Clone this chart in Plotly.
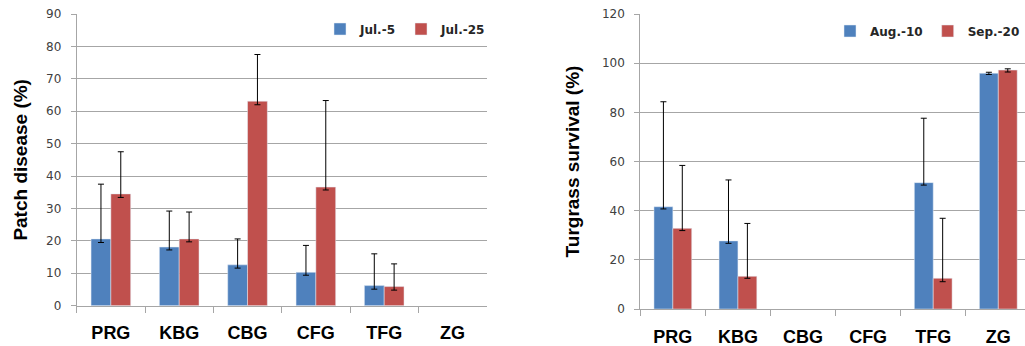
import plotly.graph_objects as go

categories = ["PRG", "KBG", "CBG", "CFG", "TFG", "ZG"]

# Left chart: Patch disease (%)  (None = zero / no bar drawn)
jul5 = [20.6, 18.1, 12.6, 10.3, 6.2, None]
jul5_plus = [16.9, 11.1, 8.0, 8.3, 9.8, None]
jul5_minus = [1.1, 0.9, 1.0, 0.9, 1.1, None]
jul25 = [34.5, 20.6, 63.1, 36.6, 5.9, None]
jul25_plus = [13.0, 8.3, 14.4, 26.7, 7.0, None]
jul25_minus = [1.1, 0.9, 1.1, 0.9, 1.1, None]

# Right chart: Turfgrass survival (%)
aug10 = [41.6, 27.7, None, None, 51.4, 95.9]
aug10_plus = [42.7, 24.8, None, None, 26.2, 0.4]
aug10_minus = [0.9, 1.0, None, None, 1.0, 0.5]
sep20 = [32.8, 13.3, None, None, 12.5, 97.2]
sep20_plus = [25.6, 21.5, None, None, 24.4, 0.5]
sep20_minus = [0.9, 0.8, None, None, 1.4, 0.8]

BLUE = "#4F81BD"
RED = "#C0504D"
GRID = "#a6a6a6"
TICKFONT = dict(family="DejaVu Sans", size=12, color="#404040")
CATFONT = dict(family="Liberation Sans", size=18, color="#000000", weight="bold")
TITLEFONT = dict(family="Liberation Sans", size=19, color="#000000", weight="bold")
LEGFONT = dict(family="DejaVu Sans", size=12, color="#262626", weight="bold")


def err(plus, minus):
    return dict(type="data", symmetric=False, array=plus, arrayminus=minus,
                color="black", thickness=1, width=3)


fig = go.Figure()
fig.add_trace(go.Bar(x=categories, y=jul5, name="Jul.-5", marker_color=BLUE,
                     error_y=err(jul5_plus, jul5_minus), xaxis="x", yaxis="y",
                     legend="legend"))
fig.add_trace(go.Bar(x=categories, y=jul25, name="Jul.-25", marker_color=RED,
                     error_y=err(jul25_plus, jul25_minus), xaxis="x", yaxis="y",
                     legend="legend"))
fig.add_trace(go.Bar(x=categories, y=aug10, name="Aug.-10", marker_color=BLUE,
                     error_y=err(aug10_plus, aug10_minus), xaxis="x2", yaxis="y2",
                     legend="legend2"))
fig.add_trace(go.Bar(x=categories, y=sep20, name="Sep.-20", marker_color=RED,
                     error_y=err(sep20_plus, sep20_minus), xaxis="x2", yaxis="y2",
                     legend="legend2"))

W, H = 1025, 346

xcommon = dict(type="category", showgrid=False, showline=True, linecolor=GRID,
               linewidth=1, ticks="outside", tickson="boundaries", ticklen=6,
               tickcolor=GRID, tickfont=CATFONT, ticklabelstandoff=11,
               automargin=False)
ycommon = dict(showgrid=True, gridcolor=GRID, gridwidth=1, showline=True,
               linecolor=GRID, linewidth=1, ticks="outside", ticklen=5,
               tickcolor=GRID, tickfont=TICKFONT, zeroline=False,
               ticklabelstandoff=7, automargin=False)

fig.update_layout(
    width=W, height=H,
    margin=dict(l=0, r=0, t=0, b=0),
    paper_bgcolor="white", plot_bgcolor="white",
    barmode="group", bargap=0.42, bargroupgap=0,
    xaxis=dict(domain=[76.7 / W, 486.7 / W], anchor="y", range=[-0.5, 5.5],
               **xcommon),
    yaxis=dict(domain=[(H - 305.7) / H, (H - 14) / H], anchor="x",
               range=[0, 90], dtick=10,
               title=dict(text="Patch disease (%)", font=TITLEFONT, standoff=13),
               **ycommon),
    xaxis2=dict(domain=[640.3 / W, 1.0], anchor="y2", range=[-0.5, 5.41],
                **xcommon),
    yaxis2=dict(domain=[(H - 309) / H, (H - 14) / H], anchor="x2",
                range=[0, 120], dtick=20,
                title=dict(text="Turgrass survival (%)", font=TITLEFONT, standoff=17),
                **ycommon),
    legend=dict(orientation="h", x=320 / W, xanchor="left", y=1 - 29 / H,
                yanchor="middle", font=LEGFONT, bgcolor="rgba(0,0,0,0)",
                itemwidth=30, tracegroupgap=0),
    legend2=dict(orientation="h", x=1.0, xanchor="right", y=1 - 31 / H,
                 yanchor="middle", font=LEGFONT, bgcolor="rgba(0,0,0,0)",
                 itemwidth=30, tracegroupgap=0),
    showlegend=True,
)

fig.write_html("out.html",
               config={"displayModeBar": False},
               post_script="document.body.style.margin='0';"
                           "document.body.style.padding='0';")
